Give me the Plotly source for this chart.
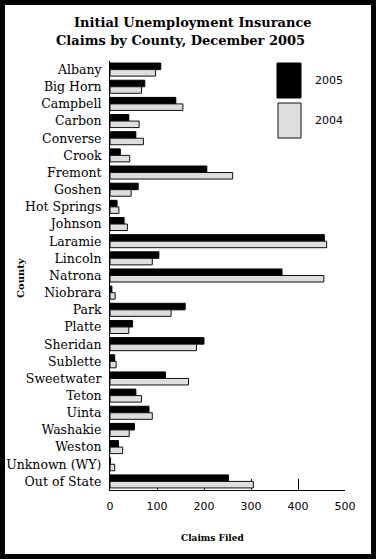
import plotly.graph_objects as go

counties = ["Albany", "Big Horn", "Campbell", "Carbon", "Converse", "Crook", "Fremont",
            "Goshen", "Hot Springs", "Johnson", "Laramie", "Lincoln", "Natrona", "Niobrara",
            "Park", "Platte", "Sheridan", "Sublette", "Sweetwater", "Teton", "Uinta",
            "Washakie", "Weston", "Unknown (WY)", "Out of State"]
claims_2005 = [108, 74, 140, 40, 55, 22, 206, 60, 15, 30, 456, 104, 366, 4,
               160, 48, 200, 10, 118, 55, 83, 52, 18, 1, 252]
claims_2004 = [97, 67, 155, 62, 71, 42, 261, 45, 19, 37, 461, 90, 455, 11,
               130, 40, 184, 13, 167, 67, 90, 41, 27, 10, 305]
x_ticks = [0, 100, 200, 300, 400, 500]

W, H = 376, 559
L, R, T, B = 110, 345, 61, 490  # plot area pixels


def px(x):
    return (x - L) / (R - L)


def py(y):
    return (B - y) / (B - T)


fig = go.Figure()
fig.add_trace(go.Bar(y=counties, x=claims_2005, orientation="h", name="2005",
                     marker=dict(color="#000000", line=dict(color="#000000", width=1))))
fig.add_trace(go.Bar(y=counties, x=claims_2004, orientation="h", name="2004",
                     marker=dict(color="#dedede", line=dict(color="#111111", width=1))))

serif = "DejaVu Serif"
sans = "DejaVu Sans"

fig.update_layout(
    width=W, height=H,
    margin=dict(l=L, r=W - R, t=T, b=H - B, pad=0, autoexpand=False),
    paper_bgcolor="white", plot_bgcolor="white",
    barmode="group", bargap=0.24, bargroupgap=0,
    showlegend=False,
    xaxis=dict(range=[0, 500], tickvals=x_ticks, ticktext=[str(v) for v in x_ticks],
               showgrid=False, zeroline=False, showline=True, linecolor="black", linewidth=1,
               ticks="inside", ticklen=11, tickcolor="black", tickwidth=1,
               tickfont=dict(family=sans, size=11, color="black"), automargin=False,
               ticklabelstandoff=6, layer="below traces", fixedrange=True),
    yaxis=dict(type="category", categoryarray=counties, range=[len(counties) - 0.5, -0.5],
               showgrid=False, zeroline=False, showline=True, linecolor="black", linewidth=1,
               ticks="", tickfont=dict(family=serif, size=12.5, color="black"), automargin=False,
               ticklabelstandoff=5, fixedrange=True),
)

shapes = [
    # outer frame
    dict(type="rect", xref="paper", yref="paper", x0=px(2.5), x1=px(W - 2.5), y0=py(2.5), y1=py(H - 2.5),
         line=dict(color="black", width=5), fillcolor="rgba(0,0,0,0)", layer="above"),
    # legend boxes
    dict(type="rect", xref="paper", yref="paper", x0=px(277), x1=px(301), y0=py(98), y1=py(63),
         line=dict(color="black", width=1), fillcolor="black"),
    dict(type="rect", xref="paper", yref="paper", x0=px(278), x1=px(301), y0=py(138), y1=py(103),
         line=dict(color="#111111", width=1), fillcolor="#dedede"),
]
fig.update_layout(shapes=shapes)

annotations = [
    dict(text="<b>Initial Unemployment Insurance</b>", x=px(193), y=py(22), xref="paper", yref="paper",
         showarrow=False, xanchor="center", yanchor="middle", font=dict(family=serif, size=13, color="black")),
    dict(text="<b>Claims by County, December 2005</b>", x=px(180), y=py(40), xref="paper", yref="paper",
         showarrow=False, xanchor="center", yanchor="middle", font=dict(family=serif, size=13, color="black")),
    dict(text="2005", x=px(313), y=py(81), xref="paper", yref="paper", showarrow=False,
         xanchor="left", yanchor="middle", font=dict(family=sans, size=11, color="black")),
    dict(text="2004", x=px(313), y=py(120), xref="paper", yref="paper", showarrow=False,
         xanchor="left", yanchor="middle", font=dict(family=sans, size=11, color="black")),
    dict(text="<b>County</b>", x=px(20), y=py(278), xref="paper", yref="paper", showarrow=False,
         textangle=-90, xanchor="center", yanchor="middle", font=dict(family=serif, size=10, color="black")),
    dict(text="<b>Claims Filed</b>", x=px(213), y=py(538), xref="paper", yref="paper", showarrow=False,
         xanchor="center", yanchor="middle", font=dict(family=serif, size=9, color="black")),
]
fig.update_layout(annotations=annotations)

fig.write_html("out.html", config={"displayModeBar": False, "staticPlot": True},
               post_script="document.body.style.margin='0px';document.body.style.overflow='hidden';")
